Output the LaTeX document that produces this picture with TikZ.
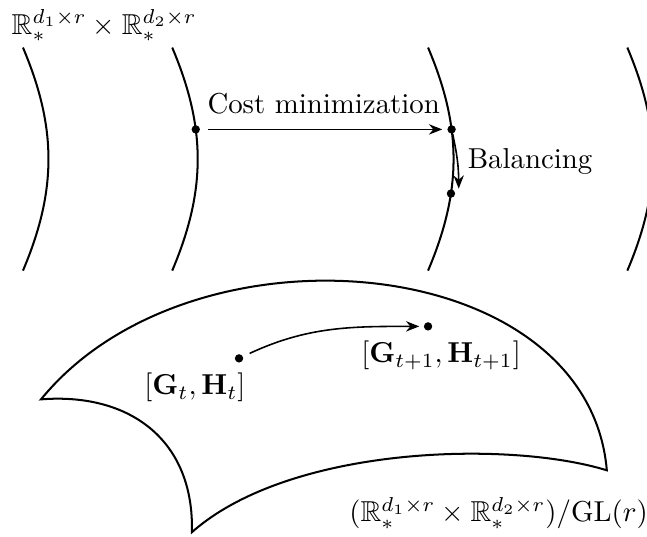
\documentclass[tikz,border=0pt]{standalone}
\usepackage{amsmath,amssymb}
\usetikzlibrary{arrows.meta,positioning}

\begin{document}
\begin{tikzpicture}[
  sheet/.style={line width=0.7pt},
  bullet/.style={circle, fill, inner sep=0pt, minimum size=2.9pt},
  flow/.style={line width=0.55pt, -{Stealth[length=4.6pt,width=3.6pt]}}]
\useasboundingbox (0,0) rectangle (7.89,6.54);
\clip (0,0) rectangle (7.89,6.54);
% total space: a stack of fibres
\node (total) at (1.27,6.23) {$\mathbb{R}_*^{d_1\times r}\times\mathbb{R}_*^{d_2\times r}$};
\foreach \x [count=\i] in {0.28,2.10,5.22,7.65}
  \draw[sheet] (\x,5.96) to[bend left=23] coordinate[pos=0.362] (u\i) coordinate[pos=0.66] (l\i) (\x,3.24);
\node[bullet] (a) at (u2) {};
\node[bullet] (b) at (u3) {};
\node[bullet] (c) at (l3) {};
\draw[flow, shorten <=2.7pt, shorten >=1.6pt] (a) -- node[above=1.8pt] {Cost minimization} (b);
\draw[flow] ([xshift=2.9pt,yshift=-1.2pt]b) to[bend left=6] node[right] {Balancing} ([xshift=2.7pt,yshift=1.7pt]c);
% quotient manifold
\draw[sheet] (0.50,1.67) .. controls (2.33,3.915) and (7.17,3.49) .. (7.40,0.805)
  .. controls (6.22,1.17) and (3.54,1.11) .. (2.34,0.05)
  .. controls (2.37,1.17) and (1.585,1.756) .. cycle;
\node[bullet] (p) at (2.915,2.17) {};
\node[bullet] (q) at (5.22,2.56) {};
\draw[flow, shorten <=2.4pt, shorten >=1.4pt] (p) to[out=25,in=180] (q);
\node[below=0pt of p, xshift=-15.3pt] {$[\mathbf{G}_t,\mathbf{H}_t]$};
\node[below=0pt of q, xshift=4.5pt] {$[\mathbf{G}_{t+1},\mathbf{H}_{t+1}]$};
\node (quot) at (6.08,0.28) {$(\mathbb{R}_*^{d_1\times r}\times\mathbb{R}_*^{d_2\times r})/\mathrm{GL}(r)$};
\end{tikzpicture}
\end{document}
